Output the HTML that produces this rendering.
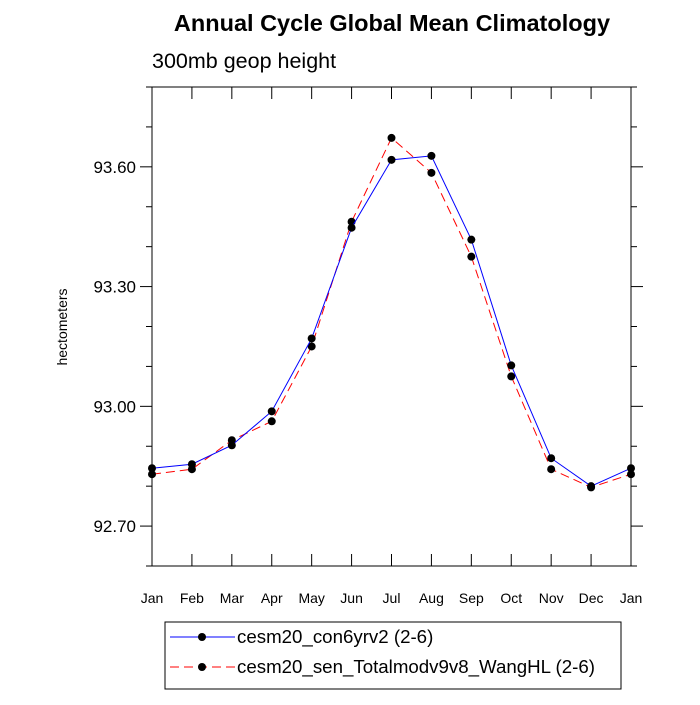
<!DOCTYPE html>
<html><head><meta charset="utf-8"><style>
body{margin:0;background:#fff;}
svg text{font-family:"Liberation Sans",Arial,sans-serif;fill:#000;}
</style></head><body>
<svg id="chart" width="700" height="700" viewBox="0 0 700 700" xmlns="http://www.w3.org/2000/svg">
<text x="392" y="31" font-size="23.5" font-weight="bold" text-anchor="middle">Annual Cycle Global Mean Climatology</text>
<text x="152" y="68" font-size="21.5">300mb geop height</text>
<text transform="translate(67,327) rotate(-90)" font-size="14" text-anchor="middle">hectometers</text>
<g id="axes"></g>
<g id="series"></g>
<g id="legend">
<rect x="165" y="622" width="456" height="67" fill="none" stroke="#000" stroke-width="1"/>
<line x1="170" y1="637" x2="235" y2="637" stroke="#00f" stroke-width="1"/>
<circle cx="202" cy="637" r="4" fill="#000"/>
<text x="237" y="643" font-size="18.7">cesm20_con6yrv2 (2-6)</text>
<line x1="170" y1="667" x2="235" y2="667" stroke="#f00" stroke-width="1" stroke-dasharray="9,5"/>
<circle cx="202" cy="667" r="4" fill="#000"/>
<text x="237" y="673" font-size="18.7">cesm20_sen_Totalmodv9v8_WangHL (2-6)</text>
</g>
</svg>
<script>
const months=["Jan","Feb","Mar","Apr","May","Jun","Jul","Aug","Sep","Oct","Nov","Dec","Jan"];
const seriesCon=[92.845,92.855,92.9025,92.9875,93.17,93.4475,93.6175,93.6275,93.4175,93.1025,92.87,92.80,92.845];
const seriesSen=[92.83,92.8425,92.915,92.9625,93.15,93.4625,93.6725,93.585,93.375,93.075,92.8425,92.797,92.83];
const yTicks=[92.70,93.00,93.30,93.60];
const yMin=92.6,yMax=93.8;
const L=152,R=631,T=87,B=566;
const NS="http://www.w3.org/2000/svg";
const xS=i=>L+(R-L)*i/(months.length-1);
const yS=v=>B-(v-yMin)/(yMax-yMin)*(B-T);
function mk(tag,attrs,parent){const e=document.createElementNS(NS,tag);for(const k in attrs)e.setAttribute(k,attrs[k]);parent.appendChild(e);return e;}
const ax=document.getElementById('axes');
const frame=mk('rect',{x:L,y:T,width:R-L,height:B-T,fill:'none',stroke:'#000','stroke-width':1},ax);


months.forEach((m,i)=>{const x=xS(i);
mk('line',{x1:x,y1:B,x2:x,y2:B-12,stroke:'#000'},ax);
mk('line',{x1:x,y1:T,x2:x,y2:T+12,stroke:'#000'},ax);
const t=mk('text',{x:x,y:B+37,'font-size':14,'text-anchor':'middle'},ax);t.textContent=m;

});
for(let v=yMin;v<=yMax+1e-9;v+=0.1){const y=yS(v);const major=yTicks.some(t=>Math.abs(t-v)<1e-6);const len=major?12:6;
mk('line',{x1:L,y1:y,x2:L-len,y2:y,stroke:'#000'},ax);
mk('line',{x1:R,y1:y,x2:R+len,y2:y,stroke:'#000'},ax);}
yTicks.forEach(v=>{const t=mk('text',{x:L-16,y:yS(v)+6,'font-size':17,'text-anchor':'end'},ax);t.textContent=v.toFixed(2);

});
const sg=document.getElementById('series');
function draw(vals,color,dash,name){
const pts=vals.map((v,i)=>xS(i)+','+yS(v)).join(' ');
const pl=mk('polyline',{points:pts,fill:'none',stroke:color,'stroke-width':1,'stroke-dasharray':dash},sg);


vals.forEach((v,i)=>{const c=mk('circle',{cx:xS(i),cy:yS(v),r:4,fill:'#000'},sg);

});}
draw(seriesSen,'#f00','9,5','totalmod');
draw(seriesCon,'#00f','none','con6yrv2');
</script>
</body></html>
